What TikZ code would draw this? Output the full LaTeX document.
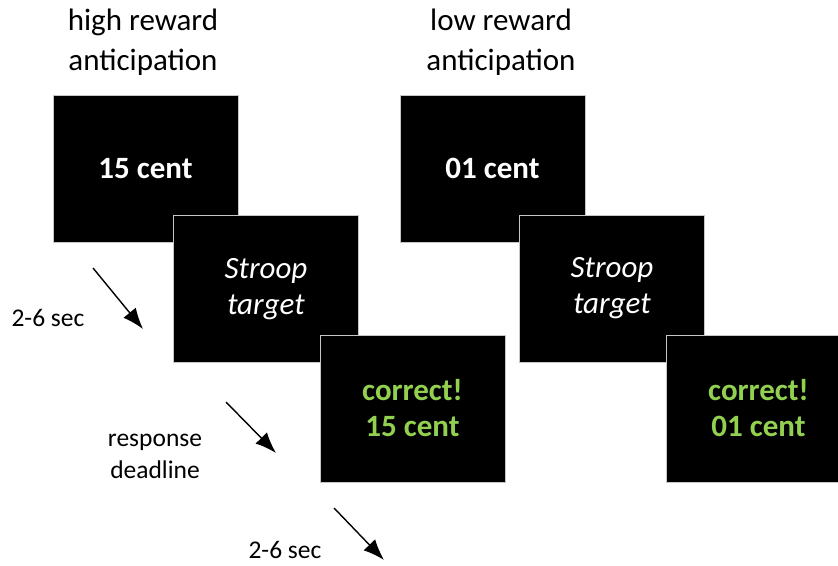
\documentclass[tikz,border=0pt]{standalone}
\usepackage{fontspec}
\setmainfont{Carlito}
\usetikzlibrary{arrows.meta}
\definecolor{fbgreen}{RGB}{146,208,80}
\tikzset{
  screen/.style={fill=black, draw=gray!45, line width=0.8pt, minimum width=185pt,
    minimum height=147pt, inner sep=0pt, align=center, text=white,
    font=\fontsize{31}{36}\selectfont},
  cue/.style={screen, font=\fontsize{31}{36}\selectfont\bfseries},
  target/.style={screen, font=\fontsize{31}{36}\selectfont\itshape},
  feedback/.style={screen, text=fbgreen, font=\fontsize{31}{36}\selectfont\bfseries},
  header/.style={align=center, font=\fontsize{31}{40}\selectfont},
  timing/.style={align=center, font=\fontsize{25.5}{32}\selectfont},
  timearrow/.style={-{Latex[length=21pt,width=16pt]}, line width=1.4pt}
}
\begin{document}
\begin{tikzpicture}[x=1pt,y=-1pt]
\useasboundingbox (0,0) rectangle (838,565);

% Headers
\node[header] (hhigh) at (143,42) {high reward\\anticipation};
\node[header] (hlow) at (501,42) {low reward\\anticipation};

% High reward trial
\node[cue] (cuehigh) at (145.5,168.5) {15 cent};
\node[target] (stroophigh) at (266,289) {Stroop\\target};
\node[feedback] (fbhigh) at (412.5,408.5) {correct!\\15 cent};

% Low reward trial
\node[cue] (cuelow) at (492.5,168.5) {01 cent};
\node[target] (strooplow) at (612,288.5) {Stroop\\target};
\node[feedback] (fblow) at (758.5,408.5) {correct!\\01 cent};

% Timing arrows
\coordinate (a1s) at (93,268);
\coordinate (a1e) at (143,329);
\coordinate (a2s) at (226,402);
\coordinate (a2e) at (276,453);
\coordinate (a3s) at (334,508);
\coordinate (a3e) at (384,560);
\draw[timearrow] (a1s) -- (a1e);
\draw[timearrow] (a2s) -- (a2e);
\draw[timearrow] (a3s) -- (a3e);

% Timing labels
\node[timing] (t1) at (48,318) {2-6 sec};
\node[timing] (t2) at (155,456) {response\\deadline};
\node[timing] (t3) at (285,550) {2-6 sec};

\end{tikzpicture}
\end{document}
